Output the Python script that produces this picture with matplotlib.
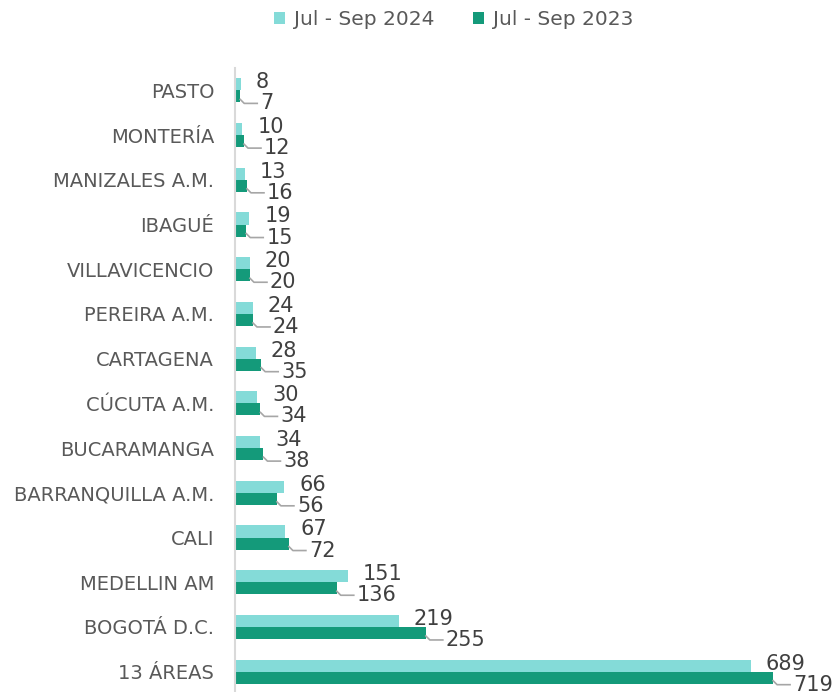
import numpy as np
import matplotlib.pyplot as plt

# Data (top to bottom as in the chart)
categories = ['PASTO', 'MONTERÍA', 'MANIZALES A.M.', 'IBAGUÉ', 'VILLAVICENCIO',
              'PEREIRA A.M.', 'CARTAGENA', 'CÚCUTA A.M.', 'BUCARAMANGA',
              'BARRANQUILLA A.M.', 'CALI', 'MEDELLIN AM', 'BOGOTÁ D.C.', '13 ÁREAS']
values_2024 = [8, 10, 13, 19, 20, 24, 28, 30, 34, 66, 67, 151, 219, 689]
values_2023 = [7, 12, 16, 15, 20, 24, 35, 34, 38, 56, 72, 136, 255, 719]

c_2024 = '#84DBD8'
c_2023 = '#149A7A'
text_c = '#404040'
label_c = '#595959'

plt.rcParams['font.family'] = ['DejaVu Sans']

fig = plt.figure(figsize=(8.33, 6.92), dpi=100)
ax = fig.add_axes([235 / 833, -2 / 692, 565 / 833, 626 / 692])

y = np.arange(len(categories))
h = 0.27

ax.barh(y - h / 2, values_2024, height=h, color=c_2024, label='Jul - Sep 2024')
ax.barh(y + h / 2, values_2023, height=h, color=c_2023, label='Jul - Sep 2023')

ax.set_xlim(0, 755)
ax.set_ylim(len(categories) - 0.5, -0.5)

# pixel -> data conversion
px_x = 755 / 565
px_y = 14 / 626

for i in range(len(categories)):
    v4 = values_2024[i]
    v3 = values_2023[i]
    ax.text(v4 + 15 * px_x, y[i] - h / 2 - 2 * px_y, str(v4), va='center', ha='left',
            fontsize=15, color=text_c)
    lx = v3 + 20 * px_x
    ly = y[i] + h / 2 + 7 * px_y
    ax.plot([v3, v3 + 4 * px_x, lx - 3 * px_x],
            [y[i] + h / 2 + 3 * px_y, ly, ly], color='#A6A6A6', lw=1.2, zorder=1)
    ax.text(lx, ly, str(v3), va='center', ha='left', fontsize=15, color=text_c)

ax.set_yticks(y)
ax.set_yticklabels(categories, fontsize=14, color=label_c)
ax.tick_params(axis='y', length=0, pad=15)
ax.set_xticks([])
for s in ['top', 'right', 'bottom']:
    ax.spines[s].set_visible(False)
ax.spines['left'].set_color('#D9D9D9')
ax.spines['left'].set_linewidth(1.5)

fig.legend(loc='upper center', bbox_to_anchor=(0.545, 1.012), ncol=2, frameon=False,
           fontsize=14.5, handlelength=0.55, handleheight=0.55, handletextpad=0.45,
           columnspacing=1.9, labelcolor=label_c)

fig.savefig('out.png', dpi=100)
